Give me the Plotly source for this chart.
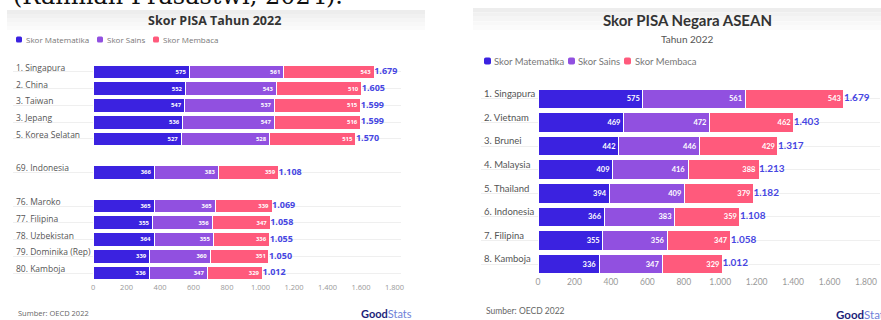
import plotly.graph_objects as go

W, H = 881, 320

# ---------------- data ----------------
left_countries = ["1. Singapura", "2. China", "3. Taiwan", "3. Jepang", "5. Korea Selatan",
                  "69. Indonesia",
                  "76. Maroko", "77. Filipina", "78. Uzbekistan", "79. Dominika (Rep)", "80. Kamboja"]
left_math = [575, 552, 547, 536, 527, 366, 365, 355, 364, 339, 336]
left_sci = [561, 543, 537, 547, 528, 383, 365, 356, 355, 360, 347]
left_read = [543, 510, 515, 516, 515, 359, 339, 347, 336, 351, 329]

right_countries = ["1. Singapura", "2. Vietnam", "3. Brunei", "4. Malaysia", "5. Thailand",
                   "6. Indonesia", "7. Filipina", "8. Kamboja"]
right_math = [575, 469, 442, 409, 394, 366, 355, 336]
right_sci = [561, 472, 446, 416, 409, 383, 356, 347]
right_read = [543, 462, 429, 388, 379, 359, 347, 329]

series_names = ["Skor Matematika", "Skor Sains", "Skor Membaca"]
x_ticks = [0, 200, 400, 600, 800, 1000, 1200, 1400, 1600, 1800]

# ---------------- style ----------------
C_MATH = "#3b22e0"
C_SCI = "#9150e0"
C_READ = "#ff5a7c"
C_TOTAL = "#4646e2"
colors = [C_MATH, C_SCI, C_READ]


def X(px):
    return px / W


def Y(py):
    return 1 - py / H


left_order = left_countries[:5] + [" "] + [left_countries[5]] + ["  "] + left_countries[6:]

fig = go.Figure()


def add_chart(countries, series, xa, ya, inside_size, total_size, font):
    totals = [sum(v) for v in zip(*series)]
    for name, vals, col in zip(series_names, series, colors):
        fig.add_trace(go.Bar(
            name=name, y=countries, x=vals, orientation="h",
            marker=dict(color=col, line=dict(color="white", width=1)),
            texttemplate="<b>%{x}</b>", textposition="inside", insidetextanchor="end",
            textfont=dict(color="white", size=inside_size, family=font),
            textangle=0, showlegend=False, xaxis=xa, yaxis=ya, hoverinfo="skip"))
    fig.add_trace(go.Scatter(
        y=countries, x=totals, mode="text", texttemplate="<b>%{x:,d}</b>",
        textposition="middle right",
        textfont=dict(color=C_TOTAL, size=total_size, family=font),
        showlegend=False, xaxis=xa, yaxis=ya, hoverinfo="skip"))


add_chart(left_countries, [left_math, left_sci, left_read], "x", "y", 6, 9, "Open Sans")
add_chart(right_countries, [right_math, right_sci, right_read], "x2", "y2", 7.5, 10, "Lato")

shapes = []
annotations = []

# header bands (gradient approximation)
band_cols = ["#ededed", "#f1f1f1", "#f5f5f5", "#f8f8f8", "#fbfbfb"]
for (x0, x1, y0, y1) in [(7, 425, 10, 30), (473, 881, 8, 30)]:
    n = len(band_cols)
    step = (y1 - y0) / n
    for i, c in enumerate(band_cols):
        shapes.append(dict(type="rect", xref="paper", yref="paper",
                           x0=X(x0), x1=X(x1), y0=Y(y0 + step * (i + 1)), y1=Y(y0 + step * i),
                           fillcolor=c, line=dict(width=0), layer="below"))


def rounded(x0, y0, x1, y1, r, col):
    p = (f"M {X(x0 + r)},{Y(y0)} L {X(x1 - r)},{Y(y0)} Q {X(x1)},{Y(y0)} {X(x1)},{Y(y0 + r)} "
         f"L {X(x1)},{Y(y1 - r)} Q {X(x1)},{Y(y1)} {X(x1 - r)},{Y(y1)} "
         f"L {X(x0 + r)},{Y(y1)} Q {X(x0)},{Y(y1)} {X(x0)},{Y(y1 - r)} "
         f"L {X(x0)},{Y(y0 + r)} Q {X(x0)},{Y(y0)} {X(x0 + r)},{Y(y0)} Z")
    return dict(type="path", xref="paper", yref="paper", path=p, fillcolor=col, line=dict(width=0))


# manual legends
leg_left = [(16, 24), (97, 105), (153, 161)]
for (sx, tx), name, col in zip(leg_left, series_names, colors):
    shapes.append(rounded(sx, 36.5, sx + 6, 42.5, 1.5, col))
    annotations.append(dict(x=X(tx), y=Y(39.5), text=name, xanchor="left",
                            font=dict(size=8, color="#777", family="Open Sans")))
leg_right = [(484, 492), (568, 576), (624, 633)]
for (sx, tx), name, col in zip(leg_right, series_names, colors):
    shapes.append(rounded(sx, 57.5, sx + 7, 64.5, 1.8, col))
    annotations.append(dict(x=X(tx), y=Y(61), text=name, xanchor="left",
                            font=dict(size=9.5, color="#777", family="Lato")))

# titles and notes
annotations += [
    dict(x=X(214), y=Y(20), xanchor="center", text="<b>Skor PISA Tahun 2022</b>",
         font=dict(size=12.5, color="#333", family="Open Sans")),
    dict(x=X(687), y=Y(20), xanchor="center", text="<b>Skor PISA Negara ASEAN</b>",
         font=dict(size=15, color="#333", family="Lato")),
    dict(x=X(687), y=Y(39), xanchor="center", text="Tahun 2022",
         font=dict(size=10, color="#555", family="Lato")),
    dict(x=X(16), y=Y(313), text="Sumber: OECD 2022", xanchor="left",
         font=dict(size=7.5, color="#666", family="Open Sans")),
    dict(x=X(484), y=Y(311), text="Sumber: OECD 2022", xanchor="left",
         font=dict(size=8.5, color="#666", family="Lato")),
    dict(x=X(386), y=Y(313), xanchor="center", text="<b>Good</b><span style='color:#6f7fd8'>Stats</span>",
         font=dict(size=11, color="#1d1f7a", family="Lato")),
    dict(x=X(834), y=Y(314), xanchor="left", text="<b>Good</b><span style='color:#6f7fd8'>Stats</span>",
         font=dict(size=11.5, color="#1d1f7a", family="Lato")),
    dict(x=X(345), y=Y(12), xanchor="right", yanchor="bottom", text="(Rahmah Prasastwi, 2024).",
         font=dict(size=24, color="#111", family="DejaVu Serif")),
]
for a in annotations:
    a.setdefault("xref", "paper")
    a.setdefault("yref", "paper")
    a.setdefault("showarrow", False)
    a.setdefault("yanchor", "middle")

fig.update_layout(
    width=W, height=H, margin=dict(l=0, r=0, t=0, b=0, autoexpand=False),
    paper_bgcolor="white", plot_bgcolor="white",
    barmode="stack", bargap=0.17, separators=",.",
    showlegend=False, shapes=shapes, annotations=annotations,
    xaxis=dict(domain=[X(13), X(401)], range=[-478, 1839], tickmode="array", tickvals=x_ticks,
               tickformat=",d", showgrid=False, zeroline=False, showline=False, anchor="y",
               tickfont=dict(size=7.5, color="#999", family="Open Sans"), ticks="", automargin=False),
    yaxis=dict(domain=[Y(281.4), Y(63.6)], type="category", categoryarray=left_order,
               categoryorder="array", range=[len(left_order) - 0.5, -0.5], anchor="x",
               tickmode="array", tickvals=left_countries, showgrid=True, gridcolor="#efefef",
               gridwidth=1, zeroline=False, showline=False, ticks="", automargin=False,
               ticklabelposition="inside", ticklabelshift=4, ticklabeloverflow="allow",
               tickfont=dict(size=8.5, color="#555", family="Open Sans")),
    xaxis2=dict(domain=[X(481), X(880)], range=[-313, 1877], tickmode="array", tickvals=x_ticks,
                tickformat=",d", showgrid=False, zeroline=False, showline=False, anchor="y2",
                tickfont=dict(size=8.5, color="#999", family="Lato"), ticks="", automargin=False),
    yaxis2=dict(domain=[Y(275.8), Y(87.2)], type="category", categoryarray=right_countries,
                categoryorder="array", range=[len(right_countries) - 0.5, -0.5], anchor="x2",
                showgrid=True, gridcolor="#efefef", gridwidth=1, zeroline=False, showline=False,
                ticks="", ticklabelposition="inside", ticklabelshift=5, ticklabeloverflow="allow",
                automargin=False, tickfont=dict(size=9.5, color="#555", family="Lato")),
)

fig.write_html("out.html", config={"displayModeBar": False},
               post_script="document.body.style.margin='0';")
